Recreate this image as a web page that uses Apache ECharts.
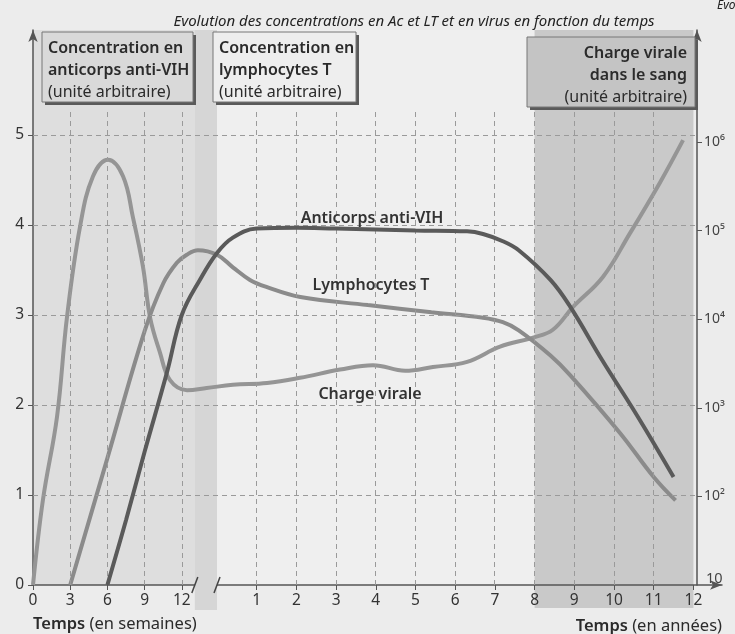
<!DOCTYPE html>
<html><head><meta charset="utf-8">
<script src="https://cdn.jsdelivr.net/npm/echarts@6/dist/echarts.min.js"></script>
<style>html,body{margin:0;padding:0;background:#ececec}#c{width:735px;height:634px}</style>
</head><body><div id="c"></div>
<script>
// ---- data ----
const weekTicks = [0, 3, 6, 9, 12];
const yearTicks = [1, 2, 3, 4, 5, 6, 7, 8, 9, 10, 11, 12];
const leftTicks = [0, 1, 2, 3, 4, 5];
const rightTicks = [10, 100, 1000, 10000, 100000, 1000000];

// Anticorps anti-VIH (left axis, arbitrary units)
const anticorpsWeeks = [[6, 0], [7.5, 0.72], [9, 1.48], [10.8, 2.36], [12, 3.0], [13.5, 3.4]];
const anticorpsYears = [[0, 3.69], [0.4, 3.86], [1, 3.96], [2, 3.97], [3, 3.96], [4, 3.95], [5, 3.94], [6.3, 3.93], [6.7, 3.9], [7.2, 3.82], [7.6, 3.72], [8.4, 3.39], [8.9, 3.09], [9.7, 2.5], [10.6, 1.87], [11.5, 1.2]];
// Lymphocytes T (left axis, arbitrary units)
const lymphoWeeks = [[3, 0], [6, 1.41], [9, 2.82], [10.5, 3.35], [11.6, 3.58], [12.4, 3.67], [13.3, 3.72]];
const lymphoYears = [[0, 3.67], [0.4, 3.53], [0.83, 3.39], [1.26, 3.31], [2.1, 3.2], [3.8, 3.11], [5.4, 3.03], [6.7, 2.97], [7.2, 2.92], [7.6, 2.83], [8.4, 2.55], [8.9, 2.33], [10.15, 1.69], [11, 1.2], [11.55, 0.94]];
// Charge virale (right log axis)
const chargeWeeks = [[0, 10], [0.8, 91], [1.94, 800], [2.74, 10500], [3.79, 110000], [4.84, 410000], [6.05, 630000], [7.26, 410000], [8.06, 141000], [8.87, 39000], [9.44, 10500], [10.24, 4200], [11.05, 2050], [12.42, 1580], [14, 1670]];
const chargeYears = [[0.4, 1820], [1.26, 1910], [2.09, 2180], [3.1, 2700], [3.93, 3030], [4.74, 2620], [5.44, 2890], [6.3, 3300], [7.13, 4900], [7.96, 6200], [8.46, 7600], [8.97, 13800], [9.72, 30000], [10.4, 93000], [11.16, 350000], [11.74, 1050000]];

// ---- broken time axis: weeks part then years part (axis unit = width of one year) ----
const PX_YEAR = 39.7, PX_WEEK = 12.4, YEAR0_OFFSET = 184;
const fromWeeks = w => w * PX_WEEK / PX_YEAR;
const fromYears = y => (YEAR0_OFFSET + y * PX_YEAR) / PX_YEAR;
const build = (wk, yr) => wk.map(p => [fromWeeks(p[0]), p[1]]).concat(yr.map(p => [fromYears(p[0]), p[1]]));

const tickPos = weekTicks.map(fromWeeks).concat(yearTicks.map(fromYears));
const tickText = {};
weekTicks.forEach(w => tickText[fromWeeks(w).toFixed(4)] = String(w));
yearTicks.forEach(y => tickText[fromYears(y).toFixed(4)] = String(y));
const sup = {2: '²', 3: '³', 4: '⁴', 5: '⁵', 6: '⁶'};

const FONT = 'Noto Sans';
const G_LEFT = 33, G_BOTTOM = 49, G_TOP = 30, AX_RIGHT = 697, X_END = 722, W = 735, H = 634;
const xMax0 = (X_END - G_LEFT) / PX_YEAR;
const xMax1 = (AX_RIGHT - G_LEFT) / PX_YEAR;
const PX_UNIT = 90, PX_DECADE = 88.6, GRID1_TOP = 112;
const plotH = H - G_BOTTOM - G_TOP;

const gridLines = weekTicks.filter(w => w > 0).map(w => ({xAxis: fromWeeks(w)}))
  .concat(yearTicks.filter(y => y < 12).map(y => ({xAxis: fromYears(y)})))
  .concat(leftTicks.filter(v => v > 0).map(v => ({yAxis: v})));

const axisLineStyle = {color: '#555', width: 1.5};
const option = {
  backgroundColor: '#ececec',
  animation: false,
  grid: [
    {left: G_LEFT, right: W - X_END, top: G_TOP, bottom: G_BOTTOM},
    {left: G_LEFT, right: W - AX_RIGHT, top: GRID1_TOP, bottom: G_BOTTOM}
  ],
  xAxis: [
    {type: 'value', gridIndex: 0, min: 0, max: xMax0,
      axisLine: {show: true, lineStyle: axisLineStyle, symbol: ['none', 'arrow'], symbolSize: [7, 12]},
      axisTick: {show: true, length: 5, lineStyle: {color: '#555'}, customValues: tickPos},
      axisLabel: {customValues: tickPos, margin: 8, color: '#333', fontFamily: FONT, fontSize: 15.5,
        formatter: v => tickText[v.toFixed(4)] || ''},
      splitLine: {show: false}},
    {type: 'value', gridIndex: 1, min: 0, max: xMax1, show: false}
  ],
  yAxis: [
    {type: 'value', gridIndex: 0, min: 0, max: plotH / PX_UNIT, position: 'left',
      axisLine: {show: true, lineStyle: axisLineStyle, symbol: ['none', 'arrow'], symbolSize: [7, 12]},
      axisTick: {show: true, length: 5, lineStyle: {color: '#555'}, customValues: leftTicks},
      axisLabel: {customValues: leftTicks, margin: 9, color: '#333', fontFamily: FONT, fontSize: 15.5},
      splitLine: {show: false}},
    {type: 'log', gridIndex: 0, logBase: 10, min: 10, max: Math.pow(10, 1 + plotH / PX_DECADE), position: 'right', offset: -(X_END - AX_RIGHT),
      axisLine: {show: true, lineStyle: axisLineStyle, symbol: ['none', 'arrow'], symbolSize: [7, 12]},
      axisTick: {show: true, length: 5, lineStyle: {color: '#555'}, customValues: rightTicks.slice(1)},
      axisLabel: {customValues: rightTicks, margin: 7, color: '#444', fontFamily: FONT, fontSize: 14,
        formatter: v => { const e = Math.round(Math.log10(v)); return e === 1 ? '{low|10}' : '10' + sup[e]; },
        rich: {low: {fontFamily: FONT, fontSize: 14.5, color: '#444', padding: [0, 0, 12, 2]}}},
      splitLine: {show: false}},
    {type: 'value', gridIndex: 1, min: 0, max: (H - G_BOTTOM - GRID1_TOP) / PX_UNIT, show: false}
  ],
  series: [
    {type: 'line', xAxisIndex: 1, yAxisIndex: 2, data: [], silent: true, z: 1,
      markLine: {silent: true, symbol: ['none', 'none'], label: {show: false},
        lineStyle: {type: [5, 4], color: '#9a9a9a', width: 1}, data: gridLines}},
    {name: 'Charge virale', type: 'line', xAxisIndex: 0, yAxisIndex: 1, data: build(chargeWeeks, chargeYears),
      smooth: 0.4, showSymbol: false, lineStyle: {color: '#959595', width: 4}, z: 3},
    {name: 'Lymphocytes T', type: 'line', xAxisIndex: 0, yAxisIndex: 0, data: build(lymphoWeeks, lymphoYears),
      smooth: 0.4, showSymbol: false, lineStyle: {color: '#8b8b8b', width: 4}, z: 4},
    {name: 'Anticorps anti-VIH', type: 'line', xAxisIndex: 0, yAxisIndex: 0, data: build(anticorpsWeeks, anticorpsYears),
      smooth: 0.4, showSymbol: false, lineStyle: {color: '#5a5a5a', width: 4}, z: 5}
  ]
};

const chart = echarts.init(document.getElementById('c'), null, {renderer: 'canvas'});
chart.setOption(option);

const px = v => chart.convertToPixel({xAxisIndex: 0}, v);
const xW12 = px(fromWeeks(12)), xY0 = px(fromYears(0)), xY8 = px(fromYears(8)), xY12 = px(fromYears(12));
const axisY = H - G_BOTTOM;
const breakL = xW12 + 13;

function box(x, y, w, h, fill, lines, align) {
  const tx = align === 'right' ? x + w - 8 : x + 6;
  const els = [
    {type: 'rect', shape: {x: x + 3, y: y + 3, width: w, height: h}, style: {fill: '#5a5a5a'}, z: 50},
    {type: 'rect', shape: {x: x, y: y, width: w, height: h}, style: {fill: fill, stroke: '#777', lineWidth: 1}, z: 51}
  ];
  lines.forEach((l, i) => els.push({type: 'text', x: tx, y: y + 16 + i * 22, z: 52,
    style: {text: l[0], fill: '#2b2b2b', font: (l[1] ? '600 ' : '400 ') + '16px "' + FONT + '"', align: align, verticalAlign: 'middle'}}));
  return els;
}
const tfont = (w, s) => w + ' ' + s + 'px "' + FONT + '"';

const graphics = [
  // background bands
  {type: 'rect', shape: {x: G_LEFT, y: G_TOP, width: breakL - G_LEFT, height: axisY - G_TOP}, style: {fill: '#dedede'}, z: -10},
  {type: 'rect', shape: {x: xY0, y: G_TOP, width: xY8 - xY0, height: axisY - G_TOP}, style: {fill: '#efefef'}, z: -10},
  {type: 'rect', shape: {x: xY8, y: G_TOP, width: xY12 - xY8, height: 608 - G_TOP}, style: {fill: '#c9c9c9'}, z: -10},
  {type: 'rect', shape: {x: breakL, y: G_TOP, width: xY0 - breakL, height: 610 - G_TOP}, style: {fill: '#d6d6d6'}, z: -10},
  // axis break: gap in the axis line and slashes
  {type: 'rect', shape: {x: breakL, y: axisY - 2, width: xY0 - breakL, height: 4}, style: {fill: '#d6d6d6'}, z: 20},
  {type: 'line', shape: {x1: breakL - 3, y1: axisY + 8, x2: breakL + 3, y2: axisY - 8}, style: {stroke: '#444', lineWidth: 1.5}, z: 21},
  {type: 'line', shape: {x1: xY0 - 3, y1: axisY + 8, x2: xY0 + 3, y2: axisY - 8}, style: {stroke: '#444', lineWidth: 1.5}, z: 21},
  // title
  {type: 'text', x: 414, y: 22, z: 60, style: {text: 'Evolution des concentrations en Ac et LT et en virus en fonction du temps',
    fill: '#222', font: 'italic 15px "' + FONT + '"', align: 'center', verticalAlign: 'middle'}},
  {type: 'text', x: 717, y: 6, z: 60, style: {text: 'Evo', fill: '#222', font: 'italic 12px "' + FONT + '"', align: 'left', verticalAlign: 'middle'}},
  // curve labels
  {type: 'text', x: 372, y: 218, z: 60, style: {text: 'Anticorps anti-VIH', fill: '#333', font: tfont(600, 16), align: 'center', verticalAlign: 'middle'}},
  {type: 'text', x: 371, y: 285, z: 60, style: {text: 'Lymphocytes T', fill: '#333', font: tfont(600, 16), align: 'center', verticalAlign: 'middle'}},
  {type: 'text', x: 370, y: 394, z: 60, style: {text: 'Charge virale', fill: '#333', font: tfont(600, 16), align: 'center', verticalAlign: 'middle'}},
  // axis names
  {type: 'text', x: G_LEFT, y: 624, z: 60, style: {text: '{b|Temps} (en semaines)', align: 'left', verticalAlign: 'middle',
    font: tfont(400, 16.5), fill: '#2b2b2b', rich: {b: {fontWeight: 600, fontSize: 16.5, fontFamily: FONT, fill: '#2b2b2b'}}}},
  {type: 'text', x: 722, y: 626, z: 60, style: {text: '{b|Temps} (en années)', align: 'right', verticalAlign: 'middle',
    font: tfont(400, 16.5), fill: '#2b2b2b', rich: {b: {fontWeight: 600, fontSize: 16.5, fontFamily: FONT, fill: '#2b2b2b'}}}}
].concat(
  box(42, 32, 151, 70, '#d9d9d9', [['Concentration en', 1], ['anticorps anti-VIH', 1], ['(unité arbitraire)', 0]], 'left'),
  box(213, 32, 143, 70, '#eeeeee', [['Concentration en', 1], ['lymphocytes T', 1], ['(unité arbitraire)', 0]], 'left'),
  box(527, 37, 168, 70, '#c4c4c4', [['Charge virale', 1], ['dans le sang', 1], ['(unité arbitraire)', 0]], 'right')
);
chart.setOption({graphic: {elements: graphics}});
</script></body></html>
